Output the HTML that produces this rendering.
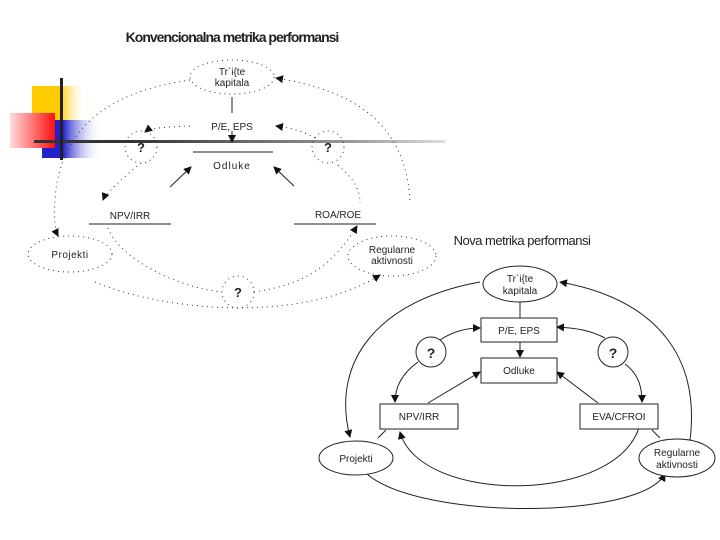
<!DOCTYPE html>
<html><head><meta charset="utf-8"><style>
body{margin:0;background:#fff}
svg{display:block}
text{font-family:"Liberation Sans",sans-serif;fill:#222}
</style></head><body>
<svg width="720" height="540" viewBox="0 0 720 540" xmlns="http://www.w3.org/2000/svg">
<defs>
<linearGradient id="gy" x1="0" x2="1"><stop offset="0.5" stop-color="#ffcc00"/><stop offset="1" stop-color="#fff" stop-opacity="0"/></linearGradient>
<linearGradient id="gr" x1="0" x2="1"><stop offset="0" stop-color="#ffdddd"/><stop offset="1" stop-color="#ff1010"/></linearGradient>
<linearGradient id="gb" x1="0" x2="1"><stop offset="0.35" stop-color="#2222cc"/><stop offset="1" stop-color="#fff" stop-opacity="0"/></linearGradient>
<linearGradient id="gl" x1="0" x2="1"><stop offset="0" stop-color="#333"/><stop offset="0.7" stop-color="#999"/><stop offset="1" stop-color="#ddd"/></linearGradient>
<marker id="a" markerWidth="8" markerHeight="8" refX="7" refY="4" orient="auto" markerUnits="userSpaceOnUse"><path d="M0,0 L8,4 L0,8 z" fill="#111"/></marker>
</defs>
<rect x="32" y="86" width="55" height="34" fill="url(#gy)"/>
<rect x="42" y="120" width="60" height="38" fill="url(#gb)"/>
<rect x="10" y="113" width="45" height="35" fill="url(#gr)"/>
<rect x="34" y="140" width="96" height="3" fill="#333"/>
<rect x="130" y="140" width="315" height="3" fill="url(#gl)"/>
<rect x="60" y="78" width="3" height="82" fill="#222"/>

<text x="232" y="42" font-size="14" text-anchor="middle" font-weight="bold" letter-spacing="-1">Konvencionalna metrika performansi</text>
<g fill="none" stroke="#333" stroke-dasharray="1,4" stroke-width="1">
<ellipse cx="232" cy="77" rx="42" ry="17"/>
<ellipse cx="70" cy="254" rx="42" ry="18"/>
<ellipse cx="392" cy="256" rx="44" ry="20"/>
<circle cx="141" cy="147" r="16"/>
<circle cx="328" cy="147" r="16"/>
<circle cx="238" cy="292" r="16"/>
<path d="M190,80 C120,90 60,120 55,200 C53,220 56,232 58,236" marker-end="url(#a)"/>
<path d="M410,200 C405,120 350,90 276,78" marker-end="url(#a)"/>
<path d="M190,126 C165,127 150,128 145,132" marker-end="url(#a)"/>
<path d="M141,163 C120,180 105,195 103,200" marker-end="url(#a)"/>
<path d="M315,138 C300,130 290,128 276,126" marker-end="url(#a)"/>
<path d="M338,165 C355,180 360,190 360,203"/>
<path d="M108,228 C120,260 180,288 222,292"/>
<path d="M254,292 C300,285 330,270 357,226" marker-end="url(#a)"/>
<path d="M95,282 C160,310 300,325 380,275" marker-end="url(#a)"/>
</g>
<text x="232" y="75" font-size="10" text-anchor="middle">Tr`i{te</text>
<text x="232" y="86" font-size="10" text-anchor="middle">kapitala</text>
<line x1="232" y1="97" x2="232" y2="113" stroke="#222"/>
<text x="232" y="130" font-size="10" text-anchor="middle">P/E, EPS</text>
<line x1="232" y1="131" x2="232" y2="142" stroke="#222" marker-end="url(#a)"/>
<line x1="193" y1="152" x2="273" y2="152" stroke="#222"/>
<text x="232" y="169" font-size="10" text-anchor="middle" letter-spacing="1">Odluke</text>
<line x1="170" y1="187" x2="191" y2="167" stroke="#222" marker-end="url(#a)"/>
<line x1="294" y1="186" x2="274" y2="167" stroke="#222" marker-end="url(#a)"/>
<text x="141" y="152" font-size="13" font-weight="bold" text-anchor="middle">?</text>
<text x="328" y="152" font-size="13" font-weight="bold" text-anchor="middle">?</text>
<text x="238" y="297" font-size="13" font-weight="bold" text-anchor="middle">?</text>
<text x="130" y="219" font-size="10" text-anchor="middle">NPV/IRR</text>
<line x1="89" y1="224" x2="171" y2="224" stroke="#222"/>
<text x="338" y="218" font-size="10" text-anchor="middle">ROA/ROE</text>
<line x1="294" y1="224" x2="376" y2="224" stroke="#222"/>
<text x="70" y="258" font-size="10" text-anchor="middle" letter-spacing="0.5">Projekti</text>
<text x="392" y="253" font-size="10" text-anchor="middle">Regularne</text>
<text x="392" y="264" font-size="10" text-anchor="middle">aktivnosti</text>

<text x="522" y="245" font-size="13" text-anchor="middle" letter-spacing="-0.5">Nova metrika performansi</text>
<g fill="none" stroke="#222" stroke-width="1">
<path d="M480,282 C380,300 330,360 350,437" marker-end="url(#a)"/>
<path d="M690,440 C700,360 660,300 560,282" marker-end="url(#a)"/>
<path d="M367,474 C420,520 640,520 665,474" marker-end="url(#a)"/>
<path d="M640,424 C620,505 420,505 400,432" marker-end="url(#a)"/>
<path d="M440,340 C455,330 470,328 480,328" marker-end="url(#a)"/>
<path d="M418,362 C400,375 395,390 395,402" marker-end="url(#a)"/>
<path d="M605,338 C590,330 575,328 557,327" marker-end="url(#a)"/>
<path d="M625,364 C640,375 642,390 642,402" marker-end="url(#a)"/>
<line x1="520" y1="302" x2="520" y2="318"/>
<line x1="520" y1="342" x2="520" y2="357" marker-end="url(#a)"/>
<line x1="428" y1="403" x2="480" y2="372" marker-end="url(#a)"/>
<line x1="598" y1="403" x2="557" y2="372" marker-end="url(#a)"/>
<line x1="378" y1="438" x2="386" y2="430"/>
<line x1="660" y1="438" x2="652" y2="430"/>
<ellipse cx="520" cy="284" rx="37" ry="18" fill="#fff"/>
<rect x="481" y="318" width="76" height="24" fill="#fff"/>
<rect x="481" y="358" width="76" height="25" fill="#fff"/>
<rect x="380" y="404" width="78" height="25" fill="#fff"/>
<rect x="580" y="404" width="78" height="25" fill="#fff"/>
<circle cx="431" cy="352" r="15" fill="#fff"/>
<circle cx="613" cy="352" r="15" fill="#fff"/>
<ellipse cx="356" cy="458" rx="37" ry="17" fill="#fff"/>
<ellipse cx="677" cy="458" rx="38" ry="19" fill="#fff"/>
</g>
<text x="520" y="282" font-size="10" text-anchor="middle">Tr`i{te</text>
<text x="520" y="294" font-size="10" text-anchor="middle">kapitala</text>
<text x="519" y="334" font-size="10" text-anchor="middle">P/E, EPS</text>
<text x="519" y="374" font-size="10" text-anchor="middle">Odluke</text>
<text x="431" y="358" font-size="14" font-weight="bold" text-anchor="middle">?</text>
<text x="613" y="358" font-size="14" font-weight="bold" text-anchor="middle">?</text>
<text x="419" y="420" font-size="10" text-anchor="middle">NPV/IRR</text>
<text x="619" y="420" font-size="10" text-anchor="middle">EVA/CFROI</text>
<text x="356" y="462" font-size="10" text-anchor="middle">Projekti</text>
<text x="677" y="456" font-size="10" text-anchor="middle">Regularne</text>
<text x="677" y="468" font-size="10" text-anchor="middle">aktivnosti</text>
</svg>
</body></html>
